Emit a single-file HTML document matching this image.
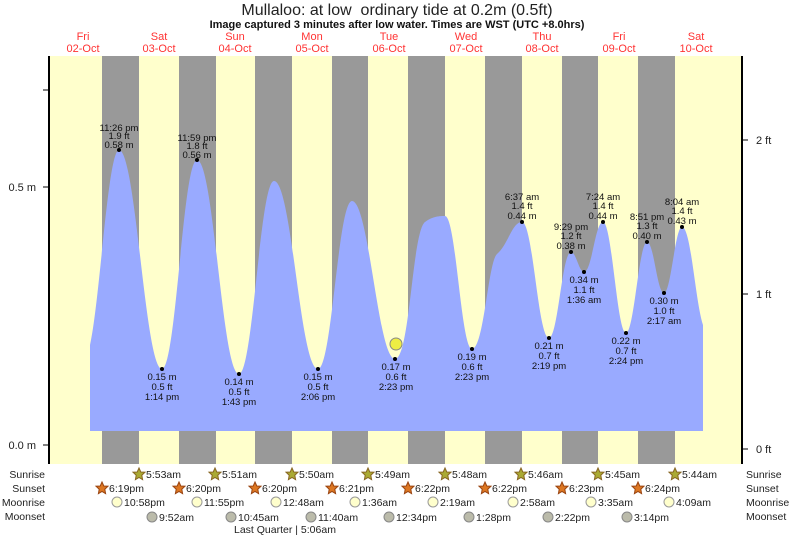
<!DOCTYPE html>
<html><head><meta charset="utf-8"><style>
body{margin:0;background:#fff;}
svg{display:block;font-family:"Liberation Sans",sans-serif;}
</style></head><body>
<svg width="793" height="537" viewBox="0 0 793 537" xmlns="http://www.w3.org/2000/svg">
<text x="397" y="15" font-size="16" text-anchor="middle" fill="#222">Mullaloo: at low&#160; ordinary tide at 0.2m (0.5ft)</text>
<text x="397" y="28" font-size="11" font-weight="bold" text-anchor="middle" fill="#111">Image captured 3 minutes after low water. Times are WST (UTC +8.0hrs)</text>
<g fill="#ff3333" font-size="11" text-anchor="middle">
<text x="83" y="40">Fri</text><text x="83" y="52">02-Oct</text>
<text x="159" y="40">Sat</text><text x="159" y="52">03-Oct</text>
<text x="235" y="40">Sun</text><text x="235" y="52">04-Oct</text>
<text x="312" y="40">Mon</text><text x="312" y="52">05-Oct</text>
<text x="389" y="40">Tue</text><text x="389" y="52">06-Oct</text>
<text x="466" y="40">Wed</text><text x="466" y="52">07-Oct</text>
<text x="542" y="40">Thu</text><text x="542" y="52">08-Oct</text>
<text x="619" y="40">Fri</text><text x="619" y="52">09-Oct</text>
<text x="696" y="40">Sat</text><text x="696" y="52">10-Oct</text>
</g>
<rect x="49" y="56" width="693" height="408" fill="#ffffcc"/>
<g fill="#999">
<rect x="102" y="56" width="37" height="408"/><rect x="179" y="56" width="37" height="408"/>
<rect x="255" y="56" width="37" height="408"/><rect x="332" y="56" width="36" height="408"/>
<rect x="408" y="56" width="37" height="408"/><rect x="485" y="56" width="37" height="408"/>
<rect x="562" y="56" width="36" height="408"/><rect x="638" y="56" width="37" height="408"/>
</g>
<path fill="#99aaff" d="M90,431 L90,345 C100,300 108,150 119,150 C136,150 145,369 162,369 C176,369 183,160 197,160 C214,160 222,374 239,374 C253,374 260,181 274,181 C292,181 300,369 318,369 C332,369 338,201 352,201 C369,201 378,359 395,359 C410,359 412,232 425,222 C433,216 440,216 445,216 C456,216 461,349 472,349 C484,349 488,262 497,254 C508,245 512,222 522,222 C533,222 538,338 549,338 C558,338 562,252 571,252 C576,252 579,272 584,272 C592,272 595,222 603,222 C612,222 617,333 626,333 C634,333 639,242 647,242 C654,242 657,293 664,293 C671,293 675,227 682,227 C691,227 695,300 703,325 L703,431 Z"/>
<line x1="49" y1="56" x2="49" y2="464" stroke="#000" stroke-width="2"/>
<line x1="742" y1="56" x2="742" y2="464" stroke="#000" stroke-width="2"/>
<g stroke="#000"><line x1="43" y1="445" x2="49" y2="445"/><line x1="43" y1="187" x2="49" y2="187"/><line x1="43" y1="90" x2="49" y2="90"/>
<line x1="742" y1="449" x2="748" y2="449"/><line x1="742" y1="294" x2="748" y2="294"/><line x1="742" y1="140" x2="748" y2="140"/></g>
<g font-size="11" fill="#222"><text x="36" y="449" text-anchor="end">0.0 m</text><text x="36" y="191" text-anchor="end">0.5 m</text>
<text x="756" y="453">0 ft</text><text x="756" y="298">1 ft</text><text x="756" y="144">2 ft</text></g>
<circle cx="396" cy="344" r="6" fill="#eeee44" stroke="#888"/>
<g fill="#000">
<circle cx="119" cy="150" r="2"/><circle cx="162" cy="369" r="2"/><circle cx="197" cy="160" r="2"/><circle cx="239" cy="374" r="2"/>
<circle cx="318" cy="369" r="2"/><circle cx="395" cy="359" r="2"/><circle cx="472" cy="349" r="2"/><circle cx="522" cy="222" r="2"/>
<circle cx="549" cy="338" r="2"/><circle cx="571" cy="252" r="2"/><circle cx="584" cy="272" r="2"/><circle cx="603" cy="222" r="2"/>
<circle cx="626" cy="333" r="2"/><circle cx="647" cy="242" r="2"/><circle cx="664" cy="293" r="2"/><circle cx="682" cy="227" r="2"/>
</g>
<g font-size="9.5" fill="#111" text-anchor="middle">
<text x="119" y="131">11:26 pm</text><text x="119" y="139">1.9 ft</text><text x="119" y="148">0.58 m</text>
<text x="197" y="141">11:59 pm</text><text x="197" y="149">1.8 ft</text><text x="197" y="158">0.56 m</text>
<text x="162" y="380">0.15 m</text><text x="162" y="390">0.5 ft</text><text x="162" y="400">1:14 pm</text>
<text x="239" y="385">0.14 m</text><text x="239" y="395">0.5 ft</text><text x="239" y="405">1:43 pm</text>
<text x="318" y="380">0.15 m</text><text x="318" y="390">0.5 ft</text><text x="318" y="400">2:06 pm</text>
<text x="396" y="370">0.17 m</text><text x="396" y="380">0.6 ft</text><text x="396" y="390">2:23 pm</text>
<text x="472" y="360">0.19 m</text><text x="472" y="370">0.6 ft</text><text x="472" y="380">2:23 pm</text>
<text x="549" y="349">0.21 m</text><text x="549" y="359">0.7 ft</text><text x="549" y="369">2:19 pm</text>
<text x="626" y="344">0.22 m</text><text x="626" y="354">0.7 ft</text><text x="626" y="364">2:24 pm</text>
<text x="584" y="283">0.34 m</text><text x="584" y="293">1.1 ft</text><text x="584" y="303">1:36 am</text>
<text x="664" y="304">0.30 m</text><text x="664" y="314">1.0 ft</text><text x="664" y="324">2:17 am</text>
<text x="522" y="200">6:37 am</text><text x="522" y="209">1.4 ft</text><text x="522" y="219">0.44 m</text>
<text x="571" y="230">9:29 pm</text><text x="571" y="239">1.2 ft</text><text x="571" y="249">0.38 m</text>
<text x="603" y="200">7:24 am</text><text x="603" y="209">1.4 ft</text><text x="603" y="219">0.44 m</text>
<text x="647" y="220">8:51 pm</text><text x="647" y="229">1.3 ft</text><text x="647" y="239">0.40 m</text>
<text x="682" y="205">8:04 am</text><text x="682" y="214">1.4 ft</text><text x="682" y="224">0.43 m</text>
</g>
<g font-size="10.5" fill="#222">
<text x="45" y="478" text-anchor="end">Sunrise</text><text x="45" y="492" text-anchor="end">Sunset</text>
<text x="45" y="506" text-anchor="end">Moonrise</text><text x="45" y="520" text-anchor="end">Moonset</text>
<text x="746" y="478">Sunrise</text><text x="746" y="492">Sunset</text><text x="746" y="506">Moonrise</text><text x="746" y="520">Moonset</text>
<text x="234" y="533">Last Quarter | 5:06am</text>
</g>
<defs><polygon id="st" points="0,-6 1.8,-2 6,-1.8 2.8,1.2 3.6,5.6 0,3.4 -3.6,5.6 -2.8,1.2 -6,-1.8 -1.8,-2"/></defs>
<g font-size="10.5" fill="#222">
<g fill="#aaaa33" stroke="#886622"><use href="#st" x="139" y="474"/><use href="#st" x="215" y="474"/><use href="#st" x="292" y="474"/><use href="#st" x="368" y="474"/><use href="#st" x="445" y="474"/><use href="#st" x="521" y="474"/><use href="#st" x="598" y="474"/><use href="#st" x="675" y="474"/></g>
<text x="146" y="478">5:53am</text><text x="222" y="478">5:51am</text><text x="299" y="478">5:50am</text><text x="375" y="478">5:49am</text><text x="452" y="478">5:48am</text><text x="528" y="478">5:46am</text><text x="605" y="478">5:45am</text><text x="682" y="478">5:44am</text>
<g fill="#dd7722" stroke="#994411"><use href="#st" x="102" y="488"/><use href="#st" x="179" y="488"/><use href="#st" x="255" y="488"/><use href="#st" x="332" y="488"/><use href="#st" x="408" y="488"/><use href="#st" x="485" y="488"/><use href="#st" x="562" y="488"/><use href="#st" x="638" y="488"/></g>
<text x="109" y="492">6:19pm</text><text x="186" y="492">6:20pm</text><text x="262" y="492">6:20pm</text><text x="339" y="492">6:21pm</text><text x="415" y="492">6:22pm</text><text x="492" y="492">6:22pm</text><text x="569" y="492">6:23pm</text><text x="645" y="492">6:24pm</text>
<g fill="#ffffcc" stroke="#999"><circle cx="117" cy="502" r="5"/><circle cx="197" cy="502" r="5"/><circle cx="276" cy="502" r="5"/><circle cx="355" cy="502" r="5"/><circle cx="433" cy="502" r="5"/><circle cx="513" cy="502" r="5"/><circle cx="591" cy="502" r="5"/><circle cx="669" cy="502" r="5"/></g>
<text x="124" y="506">10:58pm</text><text x="204" y="506">11:55pm</text><text x="283" y="506">12:48am</text><text x="362" y="506">1:36am</text><text x="440" y="506">2:19am</text><text x="520" y="506">2:58am</text><text x="598" y="506">3:35am</text><text x="676" y="506">4:09am</text>
<g fill="#bbbbaa" stroke="#888"><circle cx="152" cy="517" r="5"/><circle cx="231" cy="517" r="5"/><circle cx="311" cy="517" r="5"/><circle cx="389" cy="517" r="5"/><circle cx="469" cy="517" r="5"/><circle cx="548" cy="517" r="5"/><circle cx="627" cy="517" r="5"/></g>
<text x="159" y="521">9:52am</text><text x="238" y="521">10:45am</text><text x="318" y="521">11:40am</text><text x="396" y="521">12:34pm</text><text x="476" y="521">1:28pm</text><text x="555" y="521">2:22pm</text><text x="634" y="521">3:14pm</text>
</g>
</svg>
</body></html>
